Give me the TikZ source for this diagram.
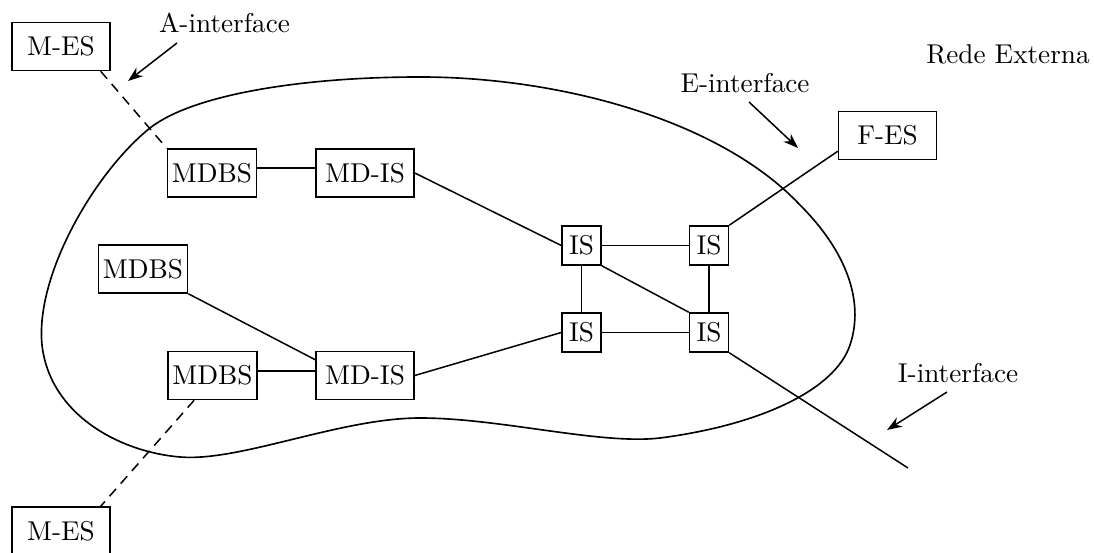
\documentclass[tikz,border=0pt]{standalone}
\usetikzlibrary{arrows.meta,calc}
\begin{document}
\begin{tikzpicture}[x=0.3675pt,y=-0.3675pt,
  box/.style={draw,line width=0.6pt,inner sep=0pt,minimum height=17.6pt},
  widebox/.style={box,minimum width=36pt},
  dbbox/.style={box,minimum width=32.7pt},
  isbox/.style={box,minimum width=14.3pt,minimum height=14.3pt},
  link/.style={line width=0.55pt},
  wireless/.style={line width=0.55pt,dash pattern=on 3.6pt off 2.6pt},
  pointer/.style={line width=0.55pt,-{Stealth[length=5.5pt,width=4pt]}},
  tag/.style={anchor=base,inner sep=0pt},
  region/.style={line width=0.6pt}]
\useasboundingbox (0,0) rectangle (1094,553);
\clip (0,0) rectangle (1094,553);

% network cloud
\draw[region] (42,345)
  .. controls (35,275) and (95,172) .. (150,128)
  .. controls (192,95) and (300,77) .. (420,77)
  .. controls (560,77) and (720,120) .. (800,205)
  .. controls (845,250) and (865,300) .. (850,345)
  .. controls (835,390) and (760,425) .. (660,438)
  .. controls (600,445) and (500,418) .. (420,418)
  .. controls (340,418) and (240,462) .. (180,457)
  .. controls (120,452) and (50,415) .. (42,345) -- cycle;

% boxes
\node[widebox] (mes1) at (61,46.5) {M-ES};
\node[dbbox] (mdbs1) at (212,173) {MDBS};
\node[widebox] (mdis1) at (365,173) {MD-IS};
\node[dbbox] (mdbs2) at (143,269) {MDBS};
\node[dbbox] (mdbs3) at (212.5,375.5) {MDBS};
\node[widebox] (mdis2) at (365,375.5) {MD-IS};
\node[isbox] (is1) at (581.5,245.5) {IS};
\node[isbox] (is2) at (709,245.5) {IS};
\node[isbox] (is3) at (581.5,332.5) {IS};
\node[isbox] (is4) at (709,332.5) {IS};
\node[widebox] (fes) at (887.5,135.5) {F-ES};
\node[widebox] (mes2) at (61,531) {M-ES};

% labels
\node[tag] (aif) at (224.5,33) {A-interface};
\node[tag] (eif) at (745,93) {E-interface};
\node[tag] (rede) at (1008,64) {Rede Externa};
\node[tag] (iif) at (958,382) {I-interface};

% radio links
\draw[wireless] ([xshift=-3.7pt]mes1.south east) -- (mdbs1.north west);
\draw[wireless] ([xshift=9.9pt]mdbs3.south west) -- ([xshift=-3.7pt]mes2.north east);

% wired links
\draw[link] ([yshift=1.8pt]mdbs1.east) -- ([yshift=1.8pt]mdis1.west);
\draw[link] (mdis1.east) -- (is1.west);
\draw[link] (mdbs2.south east) -- ([yshift=-3.3pt]mdis2.north west);
\draw[link] ([yshift=1.6pt]mdbs3.east) -- ([yshift=1.6pt]mdis2.west);
\draw[link] (mdis2.east) -- (is3.west);
\draw[link] (is1.east) -- (is2.west);
\draw[link] (is3.east) -- (is4.west);
\draw[link] (is1.south) -- (is3.north);
\draw[link] (is2.south) -- (is4.north);
\draw[link] (is1.south east) -- (is4.north west);
\draw[link] (is2.north east) -- ([yshift=3.3pt]fes.south west);
\coordinate (ext) at (908,468);
\draw[link] (is4.south east) -- (ext);

% interface pointers
\coordinate (atip) at (128,81);
\coordinate (etip) at (798,148);
\coordinate (itip) at (887,430);
\draw[pointer] ([shift={(-47.5,10)}]aif.base) -- (atip);
\draw[pointer] ([shift={(4,9)}]eif.base) -- (etip);
\draw[pointer] ([shift={(-11,10)}]iif.base) -- (itip);
\end{tikzpicture}
\end{document}
